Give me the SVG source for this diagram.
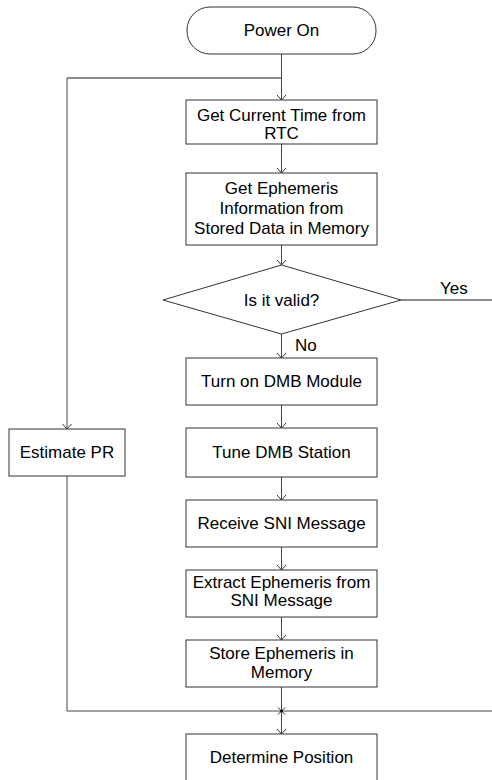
<svg xmlns="http://www.w3.org/2000/svg" width="492" height="780" viewBox="0 0 492 780">
<style>
  .box { fill: #ffffff; stroke: #333333; stroke-width: 1; }
  .t { font-family: "Liberation Sans", Arial, sans-serif; font-size: 17px; fill: #000000; text-anchor: middle; }
  .tl { font-family: "Liberation Sans", Arial, sans-serif; font-size: 17px; fill: #000000; }
  .ln { fill: none; stroke: #444444; stroke-width: 1; }
  .lg { fill: none; stroke: #666666; stroke-width: 1.3; }
</style>
<defs>
  <marker id="arr" viewBox="-6 -5 7 10" refX="0" refY="0" markerWidth="7" markerHeight="10" markerUnits="userSpaceOnUse" orient="auto">
    <path d="M-5,-4.5 L0,0 L-5,4.5" fill="none" stroke="#333333" stroke-width="1"/>
  </marker>
</defs>
<rect width="492" height="780" fill="#ffffff"/>

<g id="connectors">
  <line class="ln" x1="281.5" y1="54" x2="281.5" y2="100" marker-end="url(#arr)"/>
  <polyline class="lg" points="281.5,78 67,78"/>
  <line class="ln" x1="67" y1="78" x2="67" y2="429" marker-end="url(#arr)"/>
  <line class="ln" x1="281.5" y1="144" x2="281.5" y2="173" marker-end="url(#arr)"/>
  <line class="ln" x1="281.5" y1="245" x2="281.5" y2="265" marker-end="url(#arr)"/>
  <line class="lg" x1="401" y1="300" x2="492" y2="300"/>
  <line class="ln" x1="281.5" y1="334" x2="281.5" y2="358" marker-end="url(#arr)"/>
  <line class="ln" x1="281.5" y1="405" x2="281.5" y2="428" marker-end="url(#arr)"/>
  <line class="ln" x1="281.5" y1="477" x2="281.5" y2="500" marker-end="url(#arr)"/>
  <line class="ln" x1="281.5" y1="547" x2="281.5" y2="570" marker-end="url(#arr)"/>
  <line class="ln" x1="281.5" y1="617" x2="281.5" y2="640" marker-end="url(#arr)"/>
  <line class="ln" x1="281.5" y1="687" x2="281.5" y2="734" marker-end="url(#arr)"/>
  <polyline class="ln" points="67,476 67,711 492,711"/>
  <path d="M278,707.5 L285,714.5 M285,707.5 L278,714.5" stroke="#222222" stroke-width="1" fill="none"/>
  <circle cx="281.5" cy="711" r="1.3" fill="#000000"/>
  <text class="tl" x="440" y="294">Yes</text>
  <text class="tl" x="295" y="351">No</text>
</g>

<g id="power-on">
  <rect class="box" x="187" y="7" width="189" height="47" rx="23" ry="23"/>
  <text class="t" x="281.5" y="36">Power On</text>
</g>
<g id="get-time">
  <rect class="box" x="186" y="100" width="191" height="44"/>
  <text class="t" x="281.5" y="121">Get Current Time from</text>
  <text class="t" x="281.5" y="139">RTC</text>
</g>
<g id="get-ephemeris">
  <rect class="box" x="186" y="173" width="191" height="72"/>
  <text class="t" x="281.5" y="194">Get Ephemeris</text>
  <text class="t" x="281.5" y="214">Information from</text>
  <text class="t" x="281.5" y="234">Stored Data in Memory</text>
</g>
<g id="is-valid">
  <polygon class="box" points="281.5,265 401,300 281.5,334 163,300"/>
  <text class="t" x="281.5" y="306">Is it valid?</text>
</g>
<g id="estimate-pr">
  <rect class="box" x="9" y="429" width="116" height="47"/>
  <text class="t" x="67" y="458">Estimate PR</text>
</g>
<g id="turn-on-dmb">
  <rect class="box" x="186" y="358" width="191" height="47"/>
  <text class="t" x="281.5" y="387">Turn on DMB Module</text>
</g>
<g id="tune-dmb">
  <rect class="box" x="186" y="428" width="191" height="49"/>
  <text class="t" x="281.5" y="458">Tune DMB Station</text>
</g>
<g id="receive-sni">
  <rect class="box" x="186" y="500" width="191" height="47"/>
  <text class="t" x="281.5" y="529">Receive SNI Message</text>
</g>
<g id="extract-ephemeris">
  <rect class="box" x="186" y="570" width="191" height="47"/>
  <text class="t" x="281.5" y="588">Extract Ephemeris from</text>
  <text class="t" x="281.5" y="606">SNI Message</text>
</g>
<g id="store-ephemeris">
  <rect class="box" x="186" y="640" width="191" height="47"/>
  <text class="t" x="281.5" y="659">Store Ephemeris in</text>
  <text class="t" x="281.5" y="678">Memory</text>
</g>
<g id="determine-position">
  <rect class="box" x="186" y="734" width="191" height="60"/>
  <text class="t" x="281.5" y="763">Determine Position</text>
</g>
</svg>
